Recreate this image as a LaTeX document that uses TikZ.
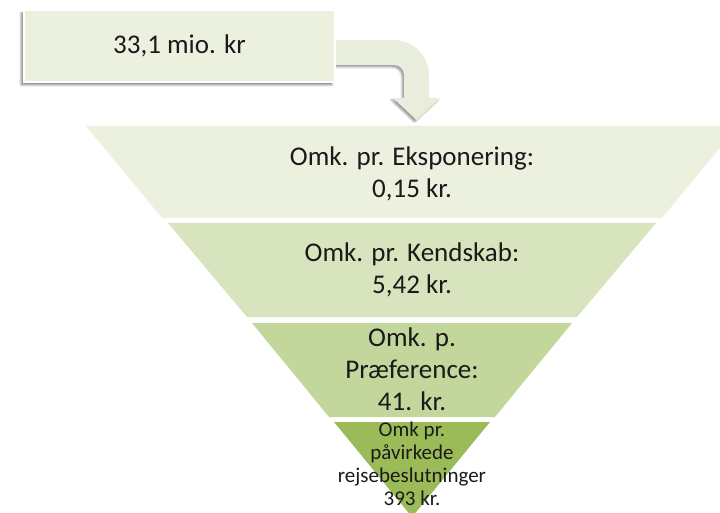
\documentclass[tikz,border=0pt]{standalone}
\usepackage{fontspec}
\setmainfont{Carlito}
\usetikzlibrary{shadows.blur}
\definecolor{paleband}{HTML}{EBF1DE}
\definecolor{lightband}{HTML}{D7E4BD}
\definecolor{midband}{HTML}{C3D69B}
\definecolor{darkband}{HTML}{9BBB59}
\definecolor{arrowfill}{HTML}{E9EEDC}
\definecolor{labeltext}{HTML}{1A1A1A}
\begin{document}
\begin{tikzpicture}[x=1pt,y=1pt,
  band/.style={draw=none},
  bandtext/.style={align=center,text=labeltext,font=\fontsize{27}{32}\selectfont},
  smalltext/.style={align=center,text=labeltext,font=\fontsize{21}{23}\selectfont}]
  \clip (0,0) rectangle (720,512);
  % bent arrow down to the funnel
  \fill[arrowfill,blur shadow={shadow xshift=-2pt,shadow yshift=-2pt,shadow opacity=40}]
    (320,472) -- (394,472) arc[start angle=90,end angle=0,radius=35]
    -- (429,414) -- (440,414) -- (416.5,392) -- (393,414) -- (404,414)
    -- (404,437) arc[start angle=0,end angle=90,radius=10] -- (320,447) -- cycle;
  \node[fill=paleband,draw=white,line width=1.5pt,minimum width=311pt,minimum height=72pt,
    blur shadow={shadow xshift=-3pt,shadow yshift=-3pt,shadow opacity=45},
    text=labeltext,font=\fontsize{27}{32}\selectfont] (budget) at (179.5,466) {33,1 mio. kr};
  % funnel bands
  \fill[band,paleband] (86,386) -- (738,386) -- (662,294) -- (162,294) -- cycle;
  \fill[band,lightband] (168,289) -- (656,289) -- (577,195) -- (247,195) -- cycle;
  \fill[band,midband] (252,189) -- (572,189) -- (495,95) -- (329,95) -- cycle;
  \fill[band,darkband] (334,90) -- (490,90) -- (412,-5) -- cycle;
  \node[bandtext] (expo) at (412,338) {Omk. pr. Eksponering:\\0,15 kr.};
  \node[bandtext] (kend) at (412,242) {Omk. pr. Kendskab:\\5,42 kr.};
  \node[bandtext] (pref) at (412,143) {Omk. p.\\Præference:\\41. kr.};
  \node[smalltext] (rejse) at (412,48) {Omk pr.\\påvirkede\\rejsebeslutninger\\393 kr.};
\end{tikzpicture}
\end{document}
